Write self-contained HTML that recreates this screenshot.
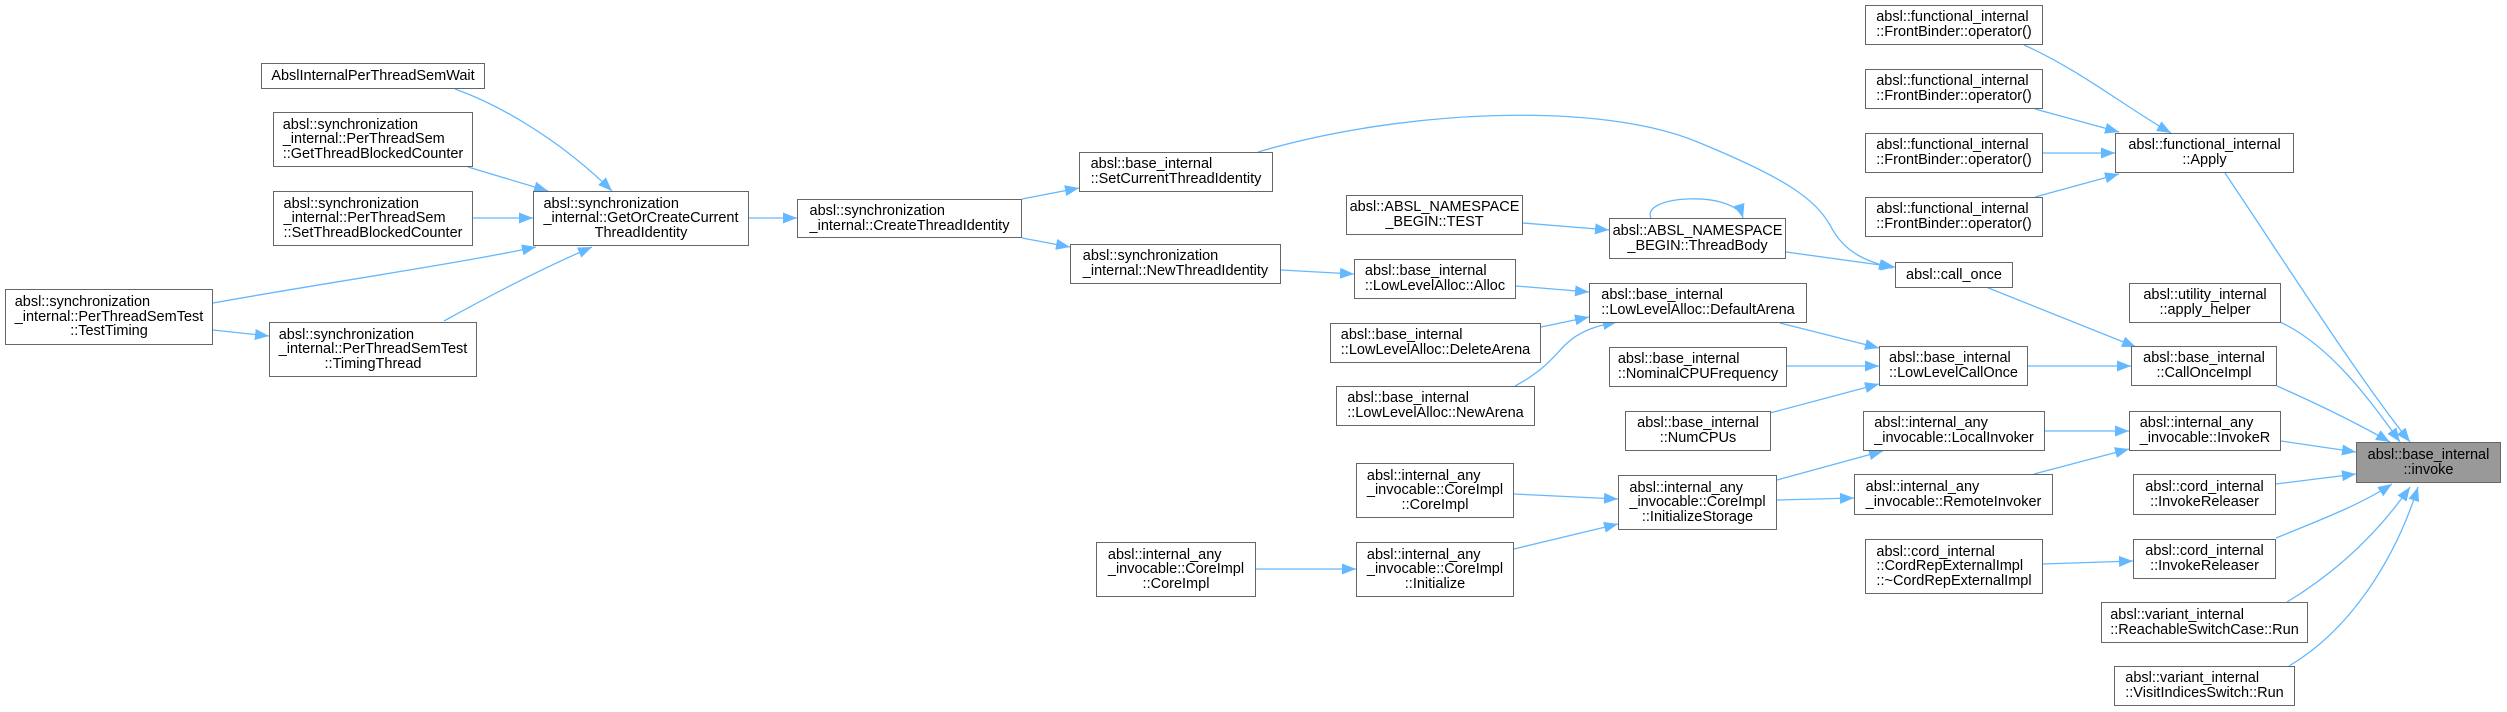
<!DOCTYPE html>
<html><head><meta charset="utf-8">
<style>
html,body{margin:0;padding:0;background:#fff;}
#c{position:relative;width:2507px;height:712px;overflow:hidden;font-family:"Liberation Sans","DejaVu Sans",sans-serif;font-size:14.5px;color:#000;}
.b{position:absolute;box-sizing:border-box;border:1px solid #666;background:#fff;display:flex;align-items:center;justify-content:center;}
.b>div{display:inline-block;text-align:left;line-height:14.6px;white-space:nowrap;}
.b>div>span{display:block;}
.b>div>span:last-child{text-align:center;}
.g{background:#999;}
svg{position:absolute;left:0;top:0;}
</style></head><body><div id="c">
<svg width="2507" height="712" viewBox="0 0 2507 712">
<defs><marker id="a" markerUnits="userSpaceOnUse" markerWidth="14" markerHeight="11" refX="14" refY="5.5" orient="auto"><path d="M0,0 L14,5.5 L0,11 z" fill="#63b8ff"/></marker></defs>
<g fill="none" stroke="#63b8ff" stroke-width="1.3" marker-end="url(#a)">
<path d="M455,89 C500,105 560,140 612,191"/>
<path d="M468,167 L548,191"/>
<path d="M473,218 L533,218"/>
<path d="M213,303 C330,282 450,265 536,247"/>
<path d="M213,330 L269,336"/>
<path d="M444,321 C500,290 550,265 592,247"/>
<path d="M749,218 L797,218"/>
<path d="M1022,199 L1079,188"/>
<path d="M1022,238 L1070,247"/>
<path d="M1258,152 C1400,110 1600,100 1700,143 C1790,180 1815,200 1830,225 C1845,255 1870,262 1893,268"/>
<path d="M1523,223 L1609,230"/>
<path d="M1651,218 C1640,195 1735,190 1743,218"/>
<path d="M1786,252 L1895,267"/>
<path d="M1281,270 L1354,274"/>
<path d="M1516,286 L1589,292"/>
<path d="M1541,327 L1589,317"/>
<path d="M1515,386 C1545,370 1555,355 1565,345 C1580,330 1600,325 1617,322"/>
<path d="M1780,323 L1879,348"/>
<path d="M1787,366 L1879,366"/>
<path d="M1770,413 L1879,384"/>
<path d="M1986,287 L2136,347"/>
<path d="M2028,366 L2131,366"/>
<path d="M2225,173 C2290,270 2360,380 2410,442"/>
<path d="M2280,322 C2330,345 2370,400 2400,442"/>
<path d="M2277,386 C2320,405 2360,425 2390,442"/>
<path d="M2281,441 L2356,452"/>
<path d="M2045,431 L2129,431"/>
<path d="M2034,474 L2129,449"/>
<path d="M1777,480 L1883,451"/>
<path d="M1777,500 L1854,498"/>
<path d="M1514,494 L1618,499"/>
<path d="M1514,549 L1618,524"/>
<path d="M1256,569 L1356,569"/>
<path d="M2276,484 L2356,474"/>
<path d="M2043,564 L2133,561"/>
<path d="M2276,538 C2320,520 2360,505 2392,484"/>
<path d="M2287,602 C2340,570 2380,530 2410,487"/>
<path d="M2289,666 C2350,630 2395,560 2418,487"/>
<path d="M2024,45 C2080,70 2130,110 2171,133"/>
<path d="M2035,109 L2119,132"/>
<path d="M2043,153 L2115,153"/>
<path d="M2035,197 L2119,174"/>
</g></svg>

<div class="b" style="left:261px;top:63px;width:224px;height:26px"><div><span>AbslInternalPerThreadSemWait</span></div></div>
<div class="b" style="left:273px;top:112px;width:200px;height:55px"><div><span>absl::synchronization</span><span>_internal::PerThreadSem</span><span>::GetThreadBlockedCounter</span></div></div>
<div class="b" style="left:273px;top:191px;width:200px;height:55px"><div><span>absl::synchronization</span><span>_internal::PerThreadSem</span><span>::SetThreadBlockedCounter</span></div></div>
<div class="b" style="left:533px;top:191px;width:216px;height:55px"><div><span>absl::synchronization</span><span>_internal::GetOrCreateCurrent</span><span>ThreadIdentity</span></div></div>
<div class="b" style="left:5px;top:289px;width:208px;height:56px"><div><span>absl::synchronization</span><span>_internal::PerThreadSemTest</span><span>::TestTiming</span></div></div>
<div class="b" style="left:269px;top:322px;width:208px;height:55px"><div><span>absl::synchronization</span><span>_internal::PerThreadSemTest</span><span>::TimingThread</span></div></div>
<div class="b" style="left:797px;top:199px;width:225px;height:39px"><div><span>absl::synchronization</span><span>_internal::CreateThreadIdentity</span></div></div>
<div class="b" style="left:1079px;top:152px;width:194px;height:40px"><div><span>absl::base_internal</span><span>::SetCurrentThreadIdentity</span></div></div>
<div class="b" style="left:1070px;top:244px;width:211px;height:40px"><div><span>absl::synchronization</span><span>_internal::NewThreadIdentity</span></div></div>
<div class="b" style="left:1346px;top:195px;width:177px;height:40px"><div><span>absl::ABSL_NAMESPACE</span><span>_BEGIN::TEST</span></div></div>
<div class="b" style="left:1609px;top:218px;width:177px;height:41px"><div><span>absl::ABSL_NAMESPACE</span><span>_BEGIN::ThreadBody</span></div></div>
<div class="b" style="left:1354px;top:259px;width:162px;height:40px"><div><span>absl::base_internal</span><span>::LowLevelAlloc::Alloc</span></div></div>
<div class="b" style="left:1589px;top:283px;width:218px;height:40px"><div><span>absl::base_internal</span><span>::LowLevelAlloc::DefaultArena</span></div></div>
<div class="b" style="left:1330px;top:323px;width:211px;height:40px"><div><span>absl::base_internal</span><span>::LowLevelAlloc::DeleteArena</span></div></div>
<div class="b" style="left:1336px;top:386px;width:199px;height:40px"><div><span>absl::base_internal</span><span>::LowLevelAlloc::NewArena</span></div></div>
<div class="b" style="left:1609px;top:347px;width:178px;height:40px"><div><span>absl::base_internal</span><span>::NominalCPUFrequency</span></div></div>
<div class="b" style="left:1625px;top:411px;width:146px;height:40px"><div><span>absl::base_internal</span><span>::NumCPUs</span></div></div>
<div class="b" style="left:1879px;top:346px;width:149px;height:40px"><div><span>absl::base_internal</span><span>::LowLevelCallOnce</span></div></div>
<div class="b" style="left:1895px;top:262px;width:118px;height:26px"><div><span>absl::call_once</span></div></div>
<div class="b" style="left:2131px;top:346px;width:146px;height:40px"><div><span>absl::base_internal</span><span>::CallOnceImpl</span></div></div>
<div class="b" style="left:2129px;top:283px;width:152px;height:40px"><div><span>absl::utility_internal</span><span>::apply_helper</span></div></div>
<div class="b" style="left:1865px;top:5px;width:178px;height:40px"><div><span>absl::functional_internal</span><span>::FrontBinder::operator()</span></div></div>
<div class="b" style="left:1865px;top:69px;width:178px;height:40px"><div><span>absl::functional_internal</span><span>::FrontBinder::operator()</span></div></div>
<div class="b" style="left:1865px;top:133px;width:178px;height:40px"><div><span>absl::functional_internal</span><span>::FrontBinder::operator()</span></div></div>
<div class="b" style="left:1865px;top:197px;width:178px;height:40px"><div><span>absl::functional_internal</span><span>::FrontBinder::operator()</span></div></div>
<div class="b" style="left:2115px;top:133px;width:179px;height:40px"><div><span>absl::functional_internal</span><span>::Apply</span></div></div>
<div class="b" style="left:1863px;top:411px;width:182px;height:40px"><div><span>absl::internal_any</span><span>_invocable::LocalInvoker</span></div></div>
<div class="b" style="left:2129px;top:411px;width:152px;height:40px"><div><span>absl::internal_any</span><span>_invocable::InvokeR</span></div></div>
<div class="b g" style="left:2356px;top:442px;width:145px;height:41px"><div><span>absl::base_internal</span><span>::invoke</span></div></div>
<div class="b" style="left:2133px;top:474px;width:143px;height:41px"><div><span>absl::cord_internal</span><span>::InvokeReleaser</span></div></div>
<div class="b" style="left:1854px;top:474px;width:199px;height:41px"><div><span>absl::internal_any</span><span>_invocable::RemoteInvoker</span></div></div>
<div class="b" style="left:1618px;top:475px;width:159px;height:55px"><div><span>absl::internal_any</span><span>_invocable::CoreImpl</span><span>::InitializeStorage</span></div></div>
<div class="b" style="left:1865px;top:539px;width:178px;height:55px"><div><span>absl::cord_internal</span><span>::CordRepExternalImpl</span><span>::~CordRepExternalImpl</span></div></div>
<div class="b" style="left:2133px;top:539px;width:143px;height:40px"><div><span>absl::cord_internal</span><span>::InvokeReleaser</span></div></div>
<div class="b" style="left:2101px;top:602px;width:207px;height:41px"><div><span>absl::variant_internal</span><span>::ReachableSwitchCase::Run</span></div></div>
<div class="b" style="left:2114px;top:666px;width:181px;height:40px"><div><span>absl::variant_internal</span><span>::VisitIndicesSwitch::Run</span></div></div>
<div class="b" style="left:1356px;top:463px;width:158px;height:55px"><div><span>absl::internal_any</span><span>_invocable::CoreImpl</span><span>::CoreImpl</span></div></div>
<div class="b" style="left:1356px;top:542px;width:158px;height:55px"><div><span>absl::internal_any</span><span>_invocable::CoreImpl</span><span>::Initialize</span></div></div>
<div class="b" style="left:1096px;top:542px;width:160px;height:55px"><div><span>absl::internal_any</span><span>_invocable::CoreImpl</span><span>::CoreImpl</span></div></div>
</div></body></html>
